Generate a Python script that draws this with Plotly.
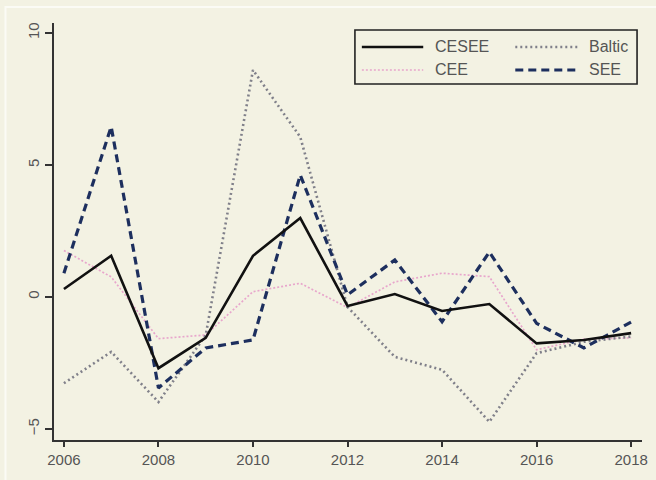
import plotly.graph_objects as go

# Annual growth by region, 2006-2018
years = list(range(2006, 2019))
cesee = [0.30, 1.56, -2.70, -1.55, 1.56, 2.99, -0.34, 0.11, -0.53, -0.27, -1.76, -1.63, -1.37]
baltic = [-3.27, -2.08, -3.98, -1.45, 8.60, 6.06, -0.38, -2.27, -2.76, -4.73, -2.13, -1.70, -1.50]
cee = [1.76, 0.76, -1.58, -1.44, 0.20, 0.52, -0.40, 0.57, 0.90, 0.77, -2.00, -1.60, -1.55]
see = [0.90, 6.45, -3.45, -1.93, -1.63, 4.62, 0.08, 1.40, -0.94, 1.70, -1.00, -1.93, -0.95]

x_ticks = [2006, 2008, 2010, 2012, 2014, 2016, 2018]
y_ticks = [-5, 0, 5, 10]

BG = "#f3f2e3"
TEXT = "#555555"
FONT = "Liberation Sans, Arial, sans-serif"

styles = {
    "CESEE": dict(color="#111111", width=2.6, dash="solid"),
    "Baltic": dict(color="#80808a", width=2.6, dash="2px,3px"),
    "CEE": dict(color="#e8a6cc", width=1.7, dash="2px,2px"),
    "SEE": dict(color="#1d2f5e", width=3.2, dash="8px,5px"),
}

fig = go.Figure()
# drawing order: pink underneath, then grey, navy, black
for name, vals in [("CEE", cee), ("Baltic", baltic), ("SEE", see), ("CESEE", cesee)]:
    fig.add_trace(go.Scatter(x=years, y=vals, mode="lines", name=name,
                             line=styles[name], showlegend=False))

W, H = 656, 480
L, R, T, B = 54, 8, 23, 40
pw, ph = W - L - R, H - T - B


def px(xp):
    return (xp - L) / pw


def py(yp):
    return (H - B - yp) / ph


shapes = []
annotations = []

# outer light frame
shapes.append(dict(type="rect", xref="paper", yref="paper",
                   x0=px(5), x1=px(W + 10), y0=py(H + 10), y1=py(7),
                   line=dict(color="#fbfbf5", width=2), layer="below"))

# legend box
shapes.append(dict(type="rect", xref="paper", yref="paper",
                   x0=px(358), x1=px(643), y0=py(84), y1=py(30),
                   line=dict(color="#222222", width=1.6), fillcolor=BG))

legend_items = [
    ("CESEE", 365, 427, 437, 47),
    ("CEE", 365, 427, 437, 70),
    ("Baltic", 520, 583, 592, 47),
    ("SEE", 520, 583, 592, 70),
]
for name, lx0, lx1, tx, ly in legend_items:
    st = styles[name]
    shapes.append(dict(type="line", xref="paper", yref="paper",
                       x0=px(lx0), x1=px(lx1), y0=py(ly), y1=py(ly),
                       line=dict(color=st["color"], width=st["width"], dash=st["dash"])))
    annotations.append(dict(xref="paper", yref="paper", x=px(tx), y=py(ly),
                            text=name, showarrow=False, xanchor="left", yanchor="middle",
                            font=dict(family=FONT, size=16, color=TEXT)))

fig.update_layout(
    width=W, height=H,
    margin=dict(l=L, r=R, t=T, b=B, pad=0),
    paper_bgcolor=BG, plot_bgcolor=BG,
    font=dict(family=FONT, size=15, color=TEXT),
    shapes=shapes, annotations=annotations,
    showlegend=False,
)
fig.update_xaxes(range=[2005.79, 2018.23], tickvals=x_ticks, ticks="outside",
                 ticklen=5, tickwidth=1.6, tickcolor="#333333",
                 showline=True, linecolor="#333333", linewidth=2,
                 showgrid=False, zeroline=False,
                 tickfont=dict(family=FONT, size=15, color=TEXT))
fig.update_yaxes(range=[-5.42, 10.38], tickvals=y_ticks, ticks="outside",
                 ticklen=7, tickwidth=1.6, tickcolor="#333333",
                 showline=True, linecolor="#333333", linewidth=2,
                 showgrid=False, zeroline=False, tickangle=-90,
                 tickfont=dict(family=FONT, size=15, color=TEXT))

fig.write_html("out.html")
